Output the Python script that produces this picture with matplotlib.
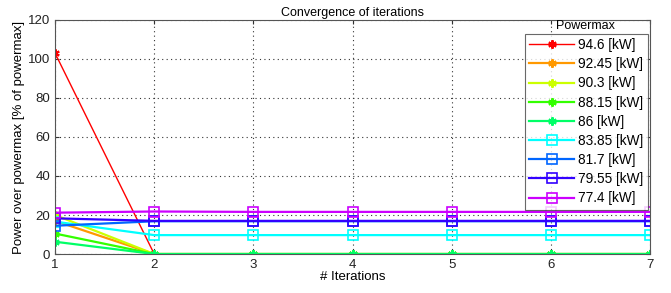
import matplotlib
matplotlib.use("Agg")
import matplotlib.pyplot as plt
import numpy as np

plt.rcParams['font.family'] = ['Liberation Sans', 'DejaVu Sans']

iterations = [1, 2, 3, 4, 5, 6, 7]
labels = ['94.6 [kW]', '92.45 [kW]', '90.3 [kW]', '88.15 [kW]', '86 [kW]',
          '83.85 [kW]', '81.7 [kW]', '79.55 [kW]', '77.4 [kW]']
p946 = [103, 0, 0, 0, 0, 0, 0]
p9245 = [17, 0, 0, 0, 0, 0, 0]
p903 = [20, 0, 0, 0, 0, 0, 0]
p8815 = [10.5, 0, 0, 0, 0, 0, 0]
p86 = [6.3, 0, 0, 0, 0, 0, 0]
p8385 = [16.6, 9.7, 9.7, 9.7, 9.7, 9.7, 9.7]
p817 = [14.5, 16.8, 16.8, 16.8, 16.8, 16.8, 16.8]
p7955 = [18.3, 17.0, 17.0, 17.0, 17.0, 17.0, 17.0]
p774 = [21.2, 21.8, 21.6, 21.6, 21.6, 21.6, 21.6]
series = [p946, p9245, p903, p8815, p86, p8385, p817, p7955, p774]

colors = ['#ff0000', '#ff9900', '#ccff00', '#33ff00', '#00ff66',
          '#00ffff', '#0066ff', '#3300ff', '#cc00ff']
markers = [(6, 2, 0)] * 5 + ['s'] * 4

fig = plt.figure(figsize=(6.71, 2.93), dpi=100)
ax = fig.add_axes([0.082, 0.133, 0.887, 0.799])

for s, c, m, l in zip(series, colors, markers, labels):
    lw = 1.0 if s is p946 else 1.6
    if m == 's':
        ax.plot(iterations, s, color=c, marker=m, markersize=6.5, markerfacecolor='none',
                markeredgecolor=c, markeredgewidth=1.2, lw=lw, label=l)
    else:
        ax.plot(iterations, s, color=c, marker=m, markersize=6, markeredgewidth=1.5,
                lw=lw, label=l)

ax.set_xlim(1, 7)
ax.set_ylim(0, 120)
ax.set_xticks(range(1, 8))
ax.set_yticks(range(0, 121, 20))
ax.grid(True, color='#333333', linestyle=(0, (1, 3)), linewidth=0.8)
ax.tick_params(direction='in', top=True, right=True, labelsize=9.5, length=3, colors='#333333', labelcolor='#222222')
for sp in ax.spines.values():
    sp.set_color('#555555')
    sp.set_linewidth(0.8)
ax.set_title('Convergence of iterations', fontsize=9, pad=3)
ax.set_xlabel('# Iterations', fontsize=9.5, labelpad=0)
ax.set_ylabel('Power over powermax [% of powermax]', fontsize=9.5, labelpad=2)

leg = ax.legend(loc='upper right', bbox_to_anchor=(0.996, 0.94), fontsize=9.8,
                frameon=True, fancybox=False, borderpad=0.3, labelspacing=0.38,
                handlelength=3.3, handletextpad=0.3, borderaxespad=0)
leg.get_frame().set_edgecolor('#444444')
leg.get_frame().set_linewidth(0.8)
ax.text(0.892, 0.975, 'Powermax', transform=ax.transAxes, ha='center', va='center', fontsize=9)

fig.savefig('out.png', dpi=100)
